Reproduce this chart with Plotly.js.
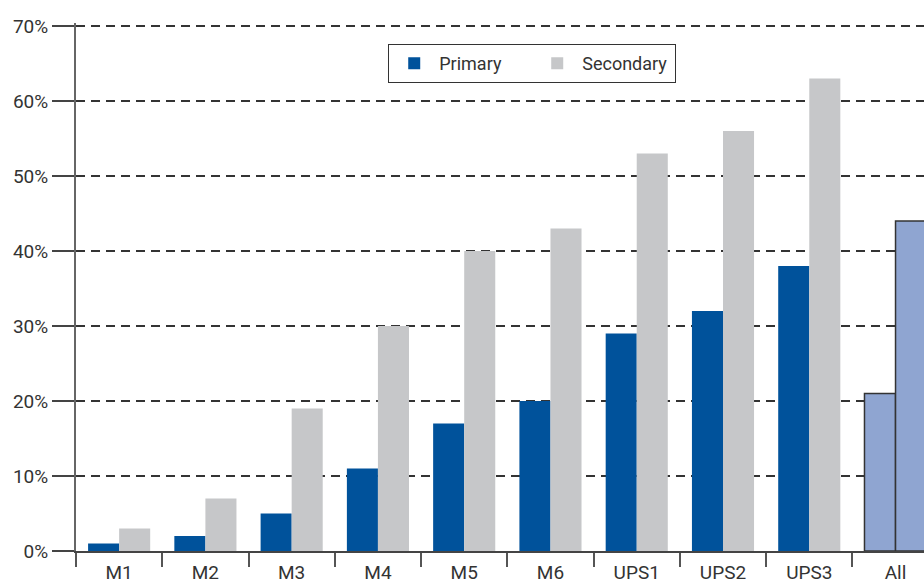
<!DOCTYPE html>
<html>
<head>
<meta charset="utf-8">
<script src="https://cdn.plot.ly/plotly-3.0.1.min.js"></script>
<style>html,body{margin:0;padding:0;background:#fff}#chart{width:924px;height:585px}</style>
</head>
<body>
<div id="chart"></div>
<script>
var categories = ['M1','M2','M3','M4','M5','M6','UPS1','UPS2','UPS3','All'];
var primaryValues = [1, 2, 5, 11, 17, 20, 29, 32, 38, 21];
var secondaryValues = [3, 7, 19, 30, 40, 43, 53, 56, 63, 44];
var yTickValues = [0, 10, 20, 30, 40, 50, 60, 70];

var PRIMARY = '#00529b', SECONDARY = '#c6c7c9', ALL = '#8fa5d1';
function colorsFor(base){ return categories.map(function(c){ return c === 'All' ? ALL : base; }); }
var lineW = categories.map(function(c){ return c === 'All' ? 1.5 : 0; });

var traces = [
  {type:'bar', name:'Primary', x:categories, y:primaryValues,
   marker:{color:colorsFor(PRIMARY), line:{color:'#333333', width:lineW}}, hoverinfo:'none'},
  {type:'bar', name:'Secondary', x:categories, y:secondaryValues,
   marker:{color:colorsFor(SECONDARY), line:{color:'#333333', width:lineW}}, hoverinfo:'none'}
];

var layout = {
  width:924, height:585,
  margin:{l:76, r:0, t:23, b:34, pad:0},
  paper_bgcolor:'#fff', plot_bgcolor:'#fff',
  font:{family:'Roboto, "Noto Sans", sans-serif', size:19, color:'#333333'},
  barmode:'group', bargap:0.28, bargroupgap:0,
  showlegend:true,
  legend:{orientation:'h', x:0.538, xanchor:'center', y:0.96, yanchor:'top',
    bordercolor:'#333333', borderwidth:1, bgcolor:'#fff', font:{size:18, color:'#333'},
    itemwidth:40, entrywidth:88, traceorder:'normal'},
  xaxis:{type:'category', range:[-0.5, 9.33], tickson:'boundaries', ticks:'outside', ticklen:14,
    tickcolor:'#555', tickwidth:2, showline:true, linecolor:'#444', linewidth:2,
    showgrid:false, zeroline:false, fixedrange:true, ticklabelstandoff:3,
    tickfont:{size:19, color:'#333'}},
  yaxis:{range:[0,70.4], tickvals:yTickValues, ticktext:yTickValues.map(function(v){return v+'%';}),
    ticks:'outside', ticklen:22, tickcolor:'#444', tickwidth:1.5,
    showline:true, linecolor:'#666', linewidth:2,
    showgrid:true, gridcolor:'#333333', gridwidth:1.3, griddash:'9px,6px',
    zeroline:false, fixedrange:true, tickfont:{size:19, color:'#333'}}
};

Plotly.newPlot('chart', traces, layout, {displayModeBar:false, staticPlot:true});
</script>
</body>
</html>
